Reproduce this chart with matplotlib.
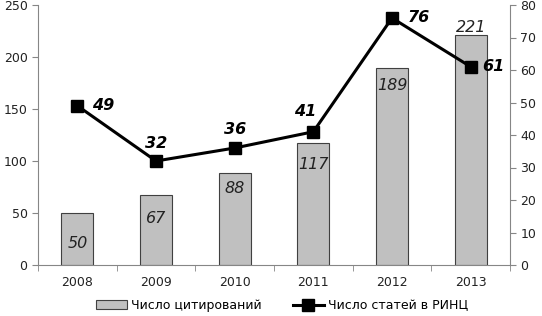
import matplotlib
matplotlib.use("Agg")
import matplotlib.pyplot as plt
import numpy as np

years = ["2008", "2009", "2010", "2011", "2012", "2013"]
citations = [50, 67, 88, 117, 189, 221]
articles = [49, 32, 36, 41, 76, 61]
left_ticks = [0, 50, 100, 150, 200, 250]
right_ticks = [0, 10, 20, 30, 40, 50, 60, 70, 80]

bar_label_offsets = [(0, -30), (0, -23), (0, -15), (0, -21), (0, -17), (0, 8)]
line_label_offsets = [(15, 0), (0, 18), (0, 19), (-8, 20), (16, 1), (12, 0)]
line_label_ha = ["left", "center", "center", "center", "left", "left"]

fig = plt.figure(figsize=(5.42, 3.16), dpi=100)
ax = fig.add_axes([38/542, 1 - 265/316, (510-38)/542, 260/316])
ax2 = ax.twinx()

x = np.arange(len(years))
ax.bar(x, citations, width=0.41, color="#c0c0c0", edgecolor="#404040", linewidth=0.8, zorder=2,
       label="Число цитирований")
ax.set_xlim(-0.5, len(years) - 0.5)
ax.set_ylim(0, 250)
ax.set_yticks(left_ticks)
ax.set_xticks(x)
ax.set_xticklabels(years)
ax.set_xticks(np.arange(-0.5, len(years)), minor=True)
ax.tick_params(axis="x", which="major", length=0, labelsize=9, pad=8, colors="#222222")
ax.tick_params(axis="x", which="minor", length=4, color="#868686")
ax.tick_params(axis="y", length=4, color="#868686", labelsize=9, labelcolor="#222222")

for i, v in enumerate(citations):
    ax.annotate(str(v), (x[i], v), xytext=bar_label_offsets[i], textcoords="offset pixels",
                ha="center", va="center", fontsize=11.5, style="italic", color="#222222", zorder=4)

ax2.plot(x, articles, color="black", linewidth=2.2, marker="s", markersize=9, zorder=5,
         label="Число статей в РИНЦ")
ax2.set_ylim(0, 80)
ax2.set_yticks(right_ticks)
ax2.tick_params(axis="y", length=4, color="#868686", labelsize=9, labelcolor="#222222")

for i, v in enumerate(articles):
    ax2.annotate(str(v), (x[i], v), xytext=line_label_offsets[i], textcoords="offset pixels",
                 ha=line_label_ha[i], va="center", fontsize=11.5, style="italic", fontweight="bold",
                 color="black")

for a in (ax, ax2):
    a.spines["top"].set_visible(False)
    for s in ("left", "right", "bottom"):
        a.spines[s].set_color("#868686")
ax2.spines["left"].set_visible(False)
ax2.spines["bottom"].set_visible(False)
ax.spines["right"].set_visible(False)

h1, l1 = ax.get_legend_handles_labels()
h2, l2 = ax2.get_legend_handles_labels()
fig.legend(h1 + h2, l1 + l2, loc="center", bbox_to_anchor=(0.52, 0.033), ncol=2, frameon=False,
           fontsize=9, handlelength=2.5, columnspacing=2.5, handletextpad=0.3)

fig.savefig("out.png", dpi=100)
